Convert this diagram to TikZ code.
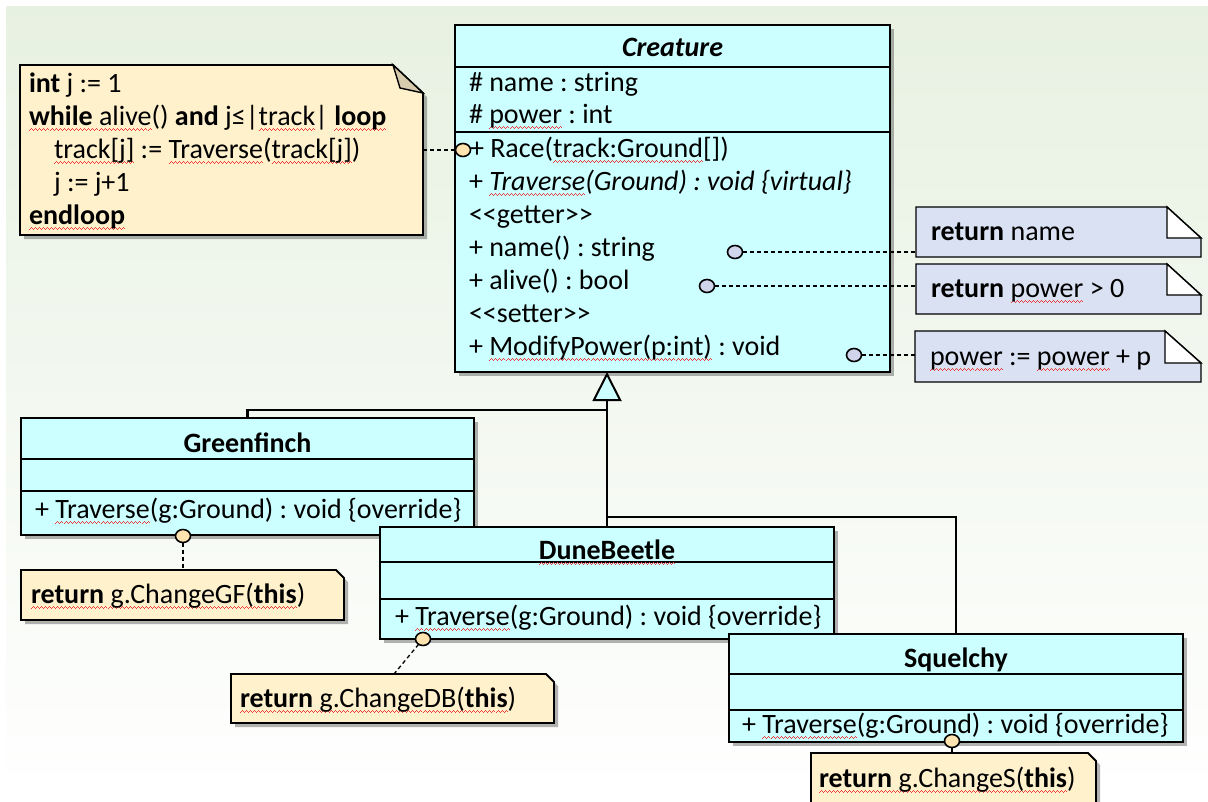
\documentclass[tikz,border=0pt]{standalone}
\usepackage{fontspec}
\setmainfont{Carlito}
\usetikzlibrary{arrows.meta,shadows,shapes.geometric}
\definecolor{cls}{RGB}{204,255,255}
\definecolor{noteY}{RGB}{255,241,204}
\definecolor{noteB}{RGB}{217,225,242}
\definecolor{foldY}{RGB}{214,203,172}
\definecolor{circY}{RGB}{255,228,176}
\definecolor{circB}{RGB}{208,213,236}
\definecolor{bgG}{RGB}{231,241,225}
\definecolor{wavy}{RGB}{235,60,60}
\newsavebox\sqbox
\newcommand\wavebit{\hbox{\rule[-5.6pt]{1pt}{0.9pt}\rule[-4.9pt]{1pt}{0.9pt}\rule[-4.2pt]{1pt}{0.9pt}\rule[-4.9pt]{1pt}{0.9pt}}}
\newcommand\sq[1]{\sbox\sqbox{#1}\rlap{\color{wavy}\hbox to \wd\sqbox{\xleaders\wavebit\hfill}}\usebox\sqbox}
\begin{document}
\frenchspacing
\begin{tikzpicture}[x=1pt,y=-1pt,
  every node/.style={font=\fontsize{28}{33}\selectfont, inner sep=0pt, outer sep=0pt},
  classbox/.style={draw, line width=2.6pt, fill=cls, anchor=north west},
  frame/.style={anchor=north west},
  sepline/.style={line width=2.2pt},
  txt/.style={anchor=base west},
  ttl/.style={anchor=base, font=\fontsize{28}{33}\selectfont\bfseries},
  dashc/.style={line width=1.3pt, dash pattern=on 4pt off 3pt},
  genl/.style={line width=2.2pt},
  pin/.style={ellipse, draw, line width=1.6pt, minimum width=15pt, minimum height=13pt},
  shadowed/.style={drop shadow={shadow xshift=4pt, shadow yshift=-4pt, opacity=0.4, fill=black!75}},
  noteyel/.style={fill=noteY, draw, line width=1.8pt, shadowed},
  noteblu/.style={fill=noteB, draw, line width=1.4pt},
]
\useasboundingbox (0,0) rectangle (1208,801);
\clip (0,0) rectangle (1208,801);
\fill[white] (0,0) rectangle (1208,801);
\shade[top color=bgG, bottom color=white] (6,6) rectangle (1208,801);

% ---------- left note ----------
\node[frame, minimum width=403pt, minimum height=170pt] (lnote) at (20,65) {};
\filldraw[noteyel] (lnote.south west) -- (lnote.north west) -- ([xshift=-30pt]lnote.north east)
  -- ([yshift=-28pt]lnote.north east) -- (lnote.south east) -- cycle;
\filldraw[fill=foldY, line width=1.4pt] ([xshift=-30pt]lnote.north east) -- ([xshift=-23pt,yshift=-23pt]lnote.north east)
  -- ([yshift=-28pt]lnote.north east) -- cycle;
\node[txt] (l1) at (29,92) {\textbf{int} j := 1};
\node[txt] (l2) at (29,125) {\sq{\textbf{while} alive}() \textbf{and} j≤|\sq{track}| \sq{\textbf{loop}}};
\node[txt] (l3) at (54,158) {\sq{track[j]} := \sq{Traverse}(\sq{track[j]})};
\node[txt] (l4) at (54,191) {j := j+1};
\node[txt] (l5) at (29,224) {\sq{\textbf{endloop}}};

% ---------- generalization connectors ----------
\coordinate (j1) at (607,410);
\coordinate (j2) at (607,517);

% ---------- Creature ----------
\node[classbox, shadowed, minimum width=435pt, minimum height=347pt] (creature) at (455,25) {};
\draw[sepline] (455,67) -- (890,67);
\draw[sepline] (455,132) -- (890,132);
\node[ttl] (ctitle) at (672.5,56) {\textit{Creature}};
\node[txt] (c1) at (469,91) {\# name : string};
\node[txt] (c2) at (469,123) {\# \sq{power} : int};
\node[txt] (c3) at (470,157) {+ Race(\sq{track:Ground}[])};
\node[txt] (c4) at (469,190) {+ \textit{\sq{Traverse}(Ground) : void \{virtual\}}};
\node[txt] (c5) at (469,223) {<\kern0pt<getter>\kern0pt>};
\node[txt] (c6) at (469,256) {+ name() : string};
\node[txt] (c7) at (469,289) {+ alive() : bool};
\node[txt] (c8) at (469,322) {<\kern0pt<setter>\kern0pt>};
\node[txt] (c9) at (469,355) {+ \sq{ModifyPower(p:int)} : void};

\draw[genl] (j1) -- (j2);

% ---------- Greenfinch ----------
\node[classbox, shadowed, minimum width=453pt, minimum height=117pt] (green) at (21,418) {};
\draw[sepline] (21,459) -- (474,459);
\draw[sepline] (21,491) -- (474,491);
\node[ttl] (gtitle) at (247.5,452) {Greenfinch};
\node[txt] (g1) at (35,518) {+ \sq{Traverse}(g:Ground) : void \{override\}};
\draw[genl] (green.north) |- (j1);

% ---------- DuneBeetle ----------
\node[classbox, shadowed, minimum width=454pt, minimum height=112pt] (dune) at (380,527) {};
\draw[sepline] (380,562) -- (834,562);
\draw[sepline] (380,599) -- (834,599);
\node[ttl] (dtitle) at (607,559) {\sq{DuneBeetle}};
\node[txt] (d1) at (395,625) {+ \sq{Traverse}(g:Ground) : void \{override\}};
\draw[genl, line width=2.8pt, -{Triangle[open, fill=cls, length=29pt, width=29pt, line width=2pt]}]
  (dune.north) -- (dune.north |- creature.south);

% ---------- Squelchy ----------
\node[classbox, shadowed, minimum width=454pt, minimum height=108pt] (squel) at (729,634) {};
\draw[sepline] (729,674) -- (1183,674);
\draw[sepline] (729,710) -- (1183,710);
\node[ttl] (stitle) at (956,667) {Squelchy};
\node[txt] (s1) at (742,733) {+ \sq{Traverse}(g:Ground) : void \{override\}};
\draw[genl] (squel.north) |- (j2);

% ---------- right notes ----------
\node[frame, minimum width=285pt, minimum height=50pt] (rn1) at (916,207) {};
\filldraw[noteblu] (rn1.south west) -- (rn1.north west) -- ([xshift=-34pt]rn1.north east)
  -- ([yshift=-31pt]rn1.north east) -- (rn1.south east) -- cycle;
\filldraw[fill=white, line width=1.4pt] ([xshift=-34pt]rn1.north east) -- ([xshift=-34pt,yshift=-31pt]rn1.north east)
  -- ([yshift=-31pt]rn1.north east) -- cycle;
\node[txt] (rt1) at (931,240) {\textbf{return} name};

\node[frame, minimum width=285pt, minimum height=50pt] (rn2) at (916,264) {};
\filldraw[noteblu] (rn2.south west) -- (rn2.north west) -- ([xshift=-34pt]rn2.north east)
  -- ([yshift=-31pt]rn2.north east) -- (rn2.south east) -- cycle;
\filldraw[fill=white, line width=1.4pt] ([xshift=-34pt]rn2.north east) -- ([xshift=-34pt,yshift=-31pt]rn2.north east)
  -- ([yshift=-31pt]rn2.north east) -- cycle;
\node[txt] (rt2) at (931,297) {\textbf{return} \sq{power} > 0};

\node[frame, minimum width=286pt, minimum height=51pt] (rn3) at (915,331) {};
\filldraw[noteblu] (rn3.south west) -- (rn3.north west) -- ([xshift=-36pt]rn3.north east)
  -- ([yshift=-32pt]rn3.north east) -- (rn3.south east) -- cycle;
\filldraw[fill=white, line width=1.4pt] ([xshift=-36pt]rn3.north east) -- ([xshift=-36pt,yshift=-32pt]rn3.north east)
  -- ([yshift=-32pt]rn3.north east) -- cycle;
\node[txt] (rt3) at (930,365) {\sq{power} := \sq{power} + p};

% ---------- bottom notes ----------
\node[frame, minimum width=323pt, minimum height=50pt] (gnote) at (21,570) {};
\filldraw[noteyel] (gnote.south west) -- (gnote.north west) -- ([xshift=-8pt]gnote.north east)
  -- ([yshift=-8pt]gnote.north east) -- (gnote.south east) -- cycle;
\node[txt] (gn) at (31,603) {\sq{\textbf{return} g.ChangeGF(\textbf{this}})};

\node[frame, minimum width=323pt, minimum height=49pt] (dnote) at (231,674) {};
\filldraw[noteyel] (dnote.south west) -- (dnote.north west) -- ([xshift=-8pt]dnote.north east)
  -- ([yshift=-8pt]dnote.north east) -- (dnote.south east) -- cycle;
\node[txt] (dn) at (240,707) {\sq{\textbf{return} g.ChangeDB(\textbf{this}})};
\coordinate (dtop) at (394,674);

\node[frame, minimum width=285pt, minimum height=70pt] (snote) at (811,753) {};
\filldraw[noteyel] (snote.south west) -- (snote.north west) -- ([xshift=-8pt]snote.north east)
  -- ([yshift=-8pt]snote.north east) -- (snote.south east) -- cycle;
\node[txt] (sn) at (819,787) {\sq{\textbf{return} g.ChangeS(\textbf{this}})};

% ---------- pins and dashed links ----------
\node[pin, fill=circY] (p0) at (463,150) {};
\draw[dashc] (lnote.east) -- (p0);
\node[pin, fill=circB] (p1) at (735,252) {};
\draw[dashc] (p1) -- (p1 -| rn1.west);
\node[pin, fill=circB] (p2) at (707,286) {};
\draw[dashc] (p2) -- (p2 -| rn2.west);
\node[pin, fill=circB] (p3) at (854,355) {};
\draw[dashc] (p3) -- (p3 -| rn3.west);
\node[pin, fill=circY] (pg) at (183,536) {};
\draw[dashc] (pg) -- (pg |- gnote.north);
\node[pin, fill=circY] (pd) at (423,639) {};
\draw[dashc] (pd) -- (dtop);
\node[pin, fill=circY] (ps) at (952,741) {};
\draw[dashc] (ps) -- (ps |- snote.north);
\end{tikzpicture}
\end{document}
